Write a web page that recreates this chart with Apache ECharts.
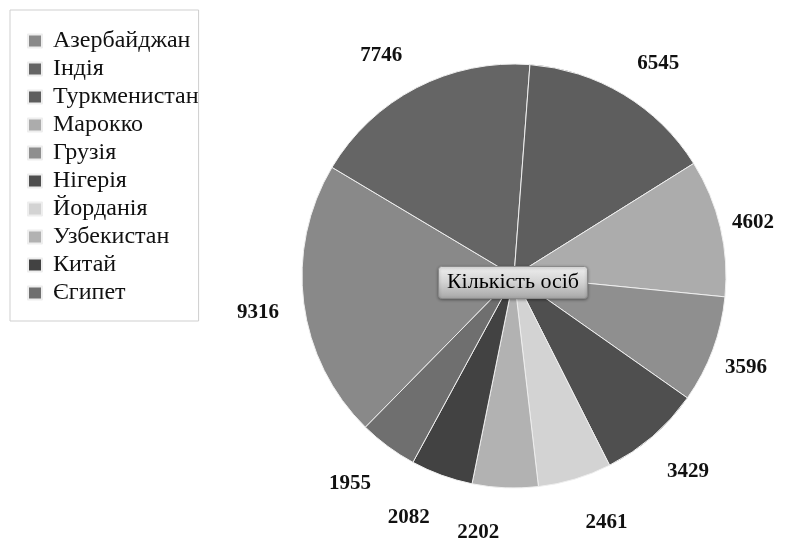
<!DOCTYPE html>
<html>
<head>
<meta charset="utf-8">
<script src="https://cdn.jsdelivr.net/npm/echarts@6/dist/echarts.min.js"></script>
<style>
	html, body { margin: 0; padding: 0; background: #fff; }
	#chart { width: 795px; height: 547px; }
</style>
</head>
<body>
<div id="chart"></div>
<script>
(function(){

	// countries in legend order, people count
	var countries = ["Азербайджан", "Індія", "Туркменистан", "Марокко", "Грузія",
		"Нігерія", "Йорданія", "Узбекистан", "Китай", "Єгипет"];
	var people = [9316, 7746, 6545, 4602, 3596, 3429, 2461, 2202, 2082, 1955];
	var greys = ["#898989", "#656565", "#5e5e5e", "#acacac", "#8f8f8f",
		"#4f4f4f", "#d3d3d3", "#b2b2b2", "#424242", "#6f6f6f"];
	var centerTitle = "Кількість осіб";

	var serif = "'Liberation Serif', 'DejaVu Serif', serif";
	var cx = 514, cy = 276;

	var pieData = countries.map(function(name, i){
		return { name: name, value: people[i], itemStyle: { color: greys[i] } };
	});

	var myChart = echarts.init(document.getElementById("chart"));

	myChart.setOption({
		animation: false,
		legend: {
			orient: "vertical",
			left: 10,
			top: 10,
			padding: [19, 0, 16, 17],
			itemWidth: 14,
			itemHeight: 13,
			itemGap: 4,
			borderColor: "#cfcfcf",
			borderWidth: 1,
			icon: "rect",
			textStyle: { fontFamily: serif, fontSize: 24, color: "#111", padding: [0, 0, 0, 6], lineHeight: 22, height: 22 },
			data: countries
		},
		series: [{
			type: "pie",
			center: [cx, cy],
			radius: 212,
			startAngle: 225.5,
			clockwise: true,
			avoidLabelOverlap: false,
			itemStyle: { borderColor: "#eeeeee", borderWidth: 1 },
			label: {
				show: true,
				position: "outside",
				formatter: "{c}",
				fontFamily: serif,
				fontSize: 21,
				fontWeight: "bold",
				color: "#111",
				overflow: "none"
			},
			labelLine: { show: false, length: 20, length2: 0 },
			// the reference puts labels on a slightly taller ring, closer on the right
			labelLayout: function(params){
				var r = params.labelRect;
				var mx = r.x + r.width / 2, my = r.y + r.height / 2;
				var d = Math.sqrt((mx - cx) * (mx - cx) + (my - cy) * (my - cy));
				var c = (mx - cx) / d;
				var dx = c > 0 ? -14 * Math.pow(c, 4) : 0;
				return { dx: dx, dy: 4 + (my - cy) * 0.09 };
			},
			emphasis: { disabled: true },
			data: pieData
		}],
		graphic: [{
			type: "group",
			left: 438,
			top: 266,
			z: 100,
			children: [{
				type: "rect",
				z: 100,
				shape: { x: 0, y: 0, width: 149, height: 32, r: 3 },
				style: {
					fill: {
						type: "linear", x: 0, y: 0, x2: 0, y2: 1,
						colorStops: [
							{ offset: 0, color: "#f0f0f0" },
							{ offset: 0.5, color: "#d2d2d2" },
							{ offset: 1, color: "#a6a6a6" }
						]
					},
					stroke: "#8a8a8a",
					lineWidth: 1,
					shadowBlur: 3,
					shadowColor: "rgba(0,0,0,0.35)",
					shadowOffsetY: 1
				}
			}, {
				type: "text",
				z: 101,
				x: 74.5,
				y: 16,
				style: {
					text: centerTitle,
					fontFamily: serif,
					fontSize: 22,
					fill: "#000",
					align: "center",
					verticalAlign: "middle"
				}
			}]
		}]
	});

})();
</script>
</body>
</html>
